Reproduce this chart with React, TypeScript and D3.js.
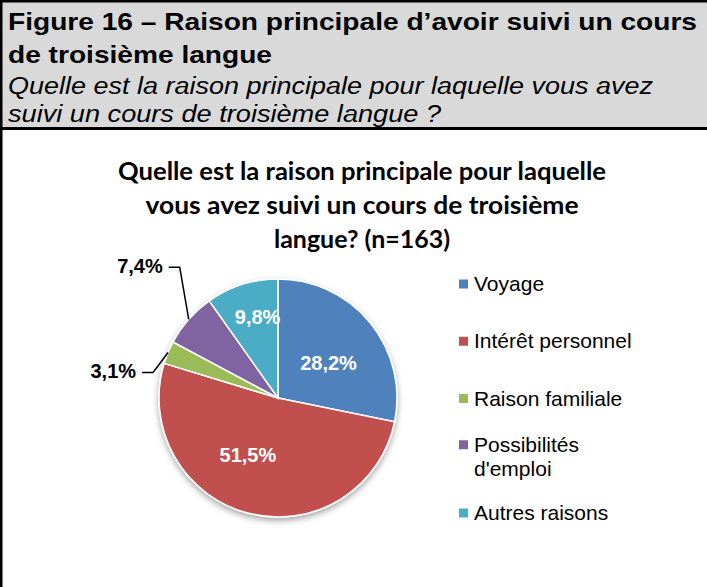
import { useEffect, useRef } from "react";
import * as d3 from "d3";

const categories = ["Voyage", "Intérêt personnel", "Raison familiale", "Possibilités d'emploi", "Autres raisons"];
const legendLines = [["Voyage"], ["Intérêt personnel"], ["Raison familiale"], ["Possibilités", "d'emploi"], ["Autres raisons"]];
const values = [28.2, 51.5, 3.1, 7.4, 9.8];
const valueLabels = ["28,2%", "51,5%", "3,1%", "7,4%", "9,8%"];
const colors = ["#4F81BD", "#C0504D", "#9BBB59", "#8064A2", "#4BACC6"];

const headerLines = [
  "Figure 16 – Raison principale d’avoir suivi un cours",
  "de troisième langue",
];
const headerItalic = [
  "Quelle est la raison principale pour laquelle vous avez",
  "suivi un cours de troisième langue ?",
];
const titleLines = [
  "Quelle est la raison principale pour laquelle",
  "vous avez suivi un cours de troisième",
  "langue? (n=163)",
];

const W = 707;
const H = 587;

export default function App() {
  const svgRef = useRef<SVGSVGElement>(null);

  useEffect(() => {
    if (!svgRef.current) return;
    const svg = d3.select(svgRef.current);
    svg.selectAll("*").remove();

    // drop shadow for the pie
    const defs = svg.append("defs");
    const f = defs.append("filter").attr("id", "shadow").attr("x", "-20%").attr("y", "-20%").attr("width", "140%").attr("height", "140%");
    f.append("feDropShadow").attr("dx", 0).attr("dy", 3).attr("stdDeviation", 3)
      .attr("flood-color", "#000").attr("flood-opacity", 0.35);

    // header box
    svg.append("rect").attr("x", 0).attr("y", 0).attr("width", W).attr("height", 128).attr("fill", "#d9d9d9");
    svg.append("rect").attr("x", 0).attr("y", 0).attr("width", W).attr("height", 2.5).attr("fill", "#000");
    svg.append("rect").attr("x", 0).attr("y", 127).attr("width", W).attr("height", 3).attr("fill", "#000");
    svg.append("rect").attr("x", 0).attr("y", 0).attr("width", 2.5).attr("height", H).attr("fill", "#000");

    const headerWidths = [689, 264];
    headerLines.forEach((t, i) => {
      svg.append("text")
        .attr("x", 8).attr("y", 30 + i * 33)
        .attr("font-family", "Liberation Sans, Arial, sans-serif")
        .attr("font-weight", "bold").attr("font-size", 24)
        .attr("textLength", headerWidths[i]).attr("lengthAdjust", "spacingAndGlyphs")
        .attr("fill", "#000").text(t);
    });
    const italicWidths = [645, 433];
    headerItalic.forEach((t, i) => {
      svg.append("text")
        .attr("x", 8).attr("y", 94 + i * 28)
        .attr("font-family", "Liberation Sans, Arial, sans-serif")
        .attr("font-style", "italic").attr("font-size", 23)
        .attr("textLength", italicWidths[i]).attr("lengthAdjust", "spacingAndGlyphs")
        .attr("fill", "#000").text(t);
    });

    // chart title
    const titleWidths = [488, 433, 176];
    titleLines.forEach((t, i) => {
      svg.append("text")
        .attr("x", 362).attr("y", 180 + i * 34)
        .attr("text-anchor", "middle")
        .attr("font-family", "Lato, 'Open Sans', sans-serif")
        .attr("font-weight", "bold").attr("font-size", 24)
        .attr("textLength", titleWidths[i]).attr("lengthAdjust", "spacingAndGlyphs")
        .attr("fill", "#000").text(t);
    });

    // pie
    const cx = 278, cy = 398, r = 119;
    const pie = d3.pie<number>().sort(null).value(d => d);
    const arcs = pie(values);
    const arc = d3.arc<d3.PieArcDatum<number>>().innerRadius(0).outerRadius(r);

    const g = svg.append("g").attr("transform", `translate(${cx},${cy})`);
    g.append("g").attr("filter", "url(#shadow)")
      .selectAll("path").data(arcs).enter().append("path")
      .attr("d", arc)
      .attr("fill", (_, i) => colors[i])
      .attr("stroke", "#fff").attr("stroke-width", 1.5);

    const midAngle = (d: d3.PieArcDatum<number>) => (d.startAngle + d.endAngle) / 2;
    const polar = (a: number, rad: number): [number, number] => [Math.sin(a) * rad, -Math.cos(a) * rad];

    // inside labels: radius factor and angle nudge per slice
    const inside: Record<number, { rf: number; da: number }> = {
      0: { rf: 0.52, da: 0.07 },
      1: { rf: 0.54, da: 0.24 },
      4: { rf: 0.7, da: 0.06 },
    };
    Object.keys(inside).forEach(k => {
      const i = +k;
      const [x, y] = polar(midAngle(arcs[i]) + inside[i].da, r * inside[i].rf);
      g.append("text")
        .attr("x", x).attr("y", y).attr("dy", "0.36em")
        .attr("text-anchor", "middle")
        .attr("font-family", "Liberation Sans, Arial, sans-serif")
        .attr("font-weight", "bold").attr("font-size", 20)
        .attr("fill", "#fff").text(valueLabels[i]);
    });

    // outside labels with leader lines
    const outside: Record<number, { dx: number; dy: number }> = {
      2: { dx: -15, dy: 20 },
      3: { dx: -9, dy: -52 },
    };
    Object.keys(outside).forEach(k => {
      const i = +k;
      const [ex, ey] = polar(midAngle(arcs[i]), r);
      const bx = ex + outside[i].dx, by = ey + outside[i].dy;
      g.append("path")
        .attr("d", `M${ex},${ey}L${bx},${by}L${bx - 11},${by}`)
        .attr("fill", "none").attr("stroke", "#000").attr("stroke-width", 1.5);
      g.append("text")
        .attr("x", bx - 17).attr("y", by + 6)
        .attr("text-anchor", "end")
        .attr("font-family", "Liberation Sans, Arial, sans-serif")
        .attr("font-weight", "bold").attr("font-size", 20)
        .attr("fill", "#000").text(valueLabels[i]);
    });

    // legend
    const legendY = d3.scalePoint<string>().domain(categories).range([284, 513]);
    categories.forEach((c, i) => {
      const lines = legendLines[i];
      const yc = legendY(c)! + (lines.length > 1 ? -12 : 0) + (i === 3 ? 1 : 0);
      svg.append("rect")
        .attr("x", 459).attr("y", yc - 4.5).attr("width", 9).attr("height", 9)
        .attr("fill", colors[i]);
      lines.forEach((ln, j) => {
        svg.append("text")
          .attr("x", 474).attr("y", yc + 7 + j * 24)
          .attr("font-family", "Liberation Sans, Arial, sans-serif")
          .attr("font-size", 21).attr("fill", "#000").text(ln);
      });
    });
  }, []);

  return (
    <svg
      ref={svgRef}
      width={W}
      height={H}
      style={{ position: "absolute", left: 0, top: 0, background: "#fff" }}
    />
  );
}
